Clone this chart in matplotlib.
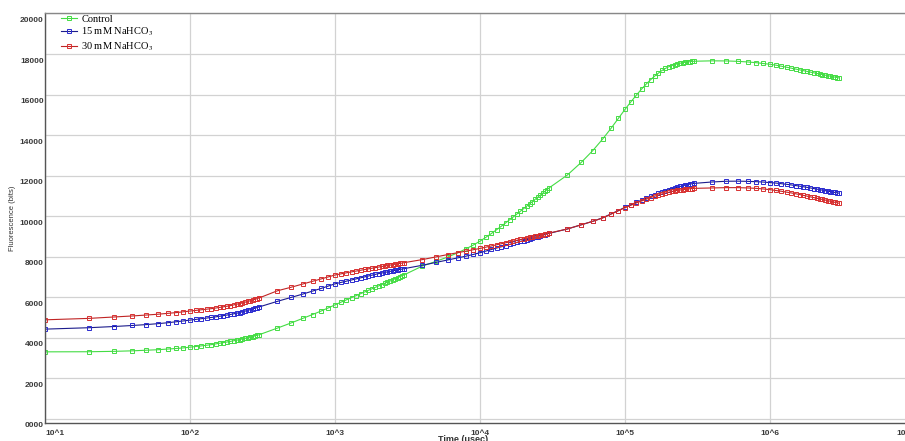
"""Chlorophyll fluorescence transient (OJIP) for control and NaHCO3 treatments."""
import matplotlib
matplotlib.use("Agg")
import matplotlib.pyplot as plt
import matplotlib.transforms as mtransforms

# sampling times of the fluorometer (usec)
TIME_US = [
    10, 20, 30, 40, 50, 60, 70, 80, 90, 100, 110, 120, 130, 140, 150,
    160, 170, 180, 190, 200, 210, 220, 230, 240, 250, 260, 270, 280, 290, 300,
    400, 500, 600, 700, 800, 900, 1000, 1100, 1200, 1300, 1400, 1500, 1600, 1700,
    1800, 1900, 2000, 2100, 2200, 2300, 2400, 2500, 2600, 2700, 2800, 2900, 3000,
    4000, 5000, 6000, 7000, 8000, 9000, 10000, 11000, 12000, 13000, 14000, 15000,
    16000, 17000, 18000, 19000, 20000, 21000, 22000, 23000, 24000, 25000, 26000,
    27000, 28000, 29000, 30000,
    40000, 50000, 60000, 70000, 80000, 90000, 100000, 110000, 120000, 130000,
    140000, 150000, 160000, 170000, 180000, 190000, 200000, 210000, 220000,
    230000, 240000, 250000, 260000, 270000, 280000, 290000, 300000,
    400000, 500000, 600000, 700000, 800000, 900000, 1000000, 1100000, 1200000,
    1300000, 1400000, 1500000, 1600000, 1700000, 1800000, 1900000, 2000000,
    2100000, 2200000, 2300000, 2400000, 2500000, 2600000, 2700000, 2800000,
    2900000, 3000000,
]

CONTROL = [
    3310, 3315, 3335, 3360, 3390, 3415, 3445, 3475, 3505, 3540, 3570, 3605, 3635, 3665, 3700,
    3730, 3760, 3795, 3825, 3855, 3885, 3915, 3945, 3975, 4005, 4035, 4065, 4095, 4125, 4155,
    4480, 4740, 4960, 5150, 5320, 5480, 5630, 5760, 5875, 5985, 6085, 6175, 6265, 6345,
    6420, 6495, 6565, 6630, 6690, 6750, 6810, 6865, 6915, 6965, 7015, 7065, 7110,
    7540, 7780, 7990, 8190, 8390, 8580, 8770, 8965, 9150, 9330, 9500, 9665,
    9820, 9970, 10110, 10245, 10375, 10500, 10615, 10725, 10835, 10935,
    11035, 11130, 11225, 11315, 11400,
    12030, 12660, 13240, 13800, 14330, 14830, 15270, 15650, 15980, 16270,
    16520, 16730, 16910, 17060, 17190, 17290, 17370, 17430, 17480,
    17520, 17550, 17575, 17595, 17610, 17625, 17635, 17645,
    17665, 17660, 17640, 17610, 17575, 17535, 17495, 17450, 17400,
    17350, 17305, 17260, 17220, 17180, 17145, 17110, 17075,
    17045, 17015, 16985, 16960, 16935, 16910, 16885, 16860,
    16840, 16820,
]

NAHCO3_15 = [
    4430, 4500, 4560, 4610, 4655, 4700, 4745, 4790, 4835, 4875, 4910, 4945, 4975, 5005, 5035,
    5065, 5095, 5125, 5155, 5185, 5215, 5250, 5285, 5320, 5355, 5390, 5425, 5460, 5495, 5530,
    5800, 5995, 6160, 6305, 6435, 6555, 6665, 6735, 6800, 6860, 6915, 6965, 7010, 7055,
    7095, 7135, 7170, 7200, 7230, 7260, 7285, 7310, 7335, 7355, 7375, 7395, 7415,
    7580, 7725, 7845, 7945, 8030, 8115, 8200, 8285, 8360, 8430, 8490, 8550,
    8610, 8660, 8710, 8760, 8800, 8845, 8885, 8925, 8960, 8995,
    9030, 9060, 9095, 9125, 9155,
    9370, 9580, 9750, 9920, 10110, 10280, 10440, 10570, 10690, 10790,
    10890, 10980, 11060, 11135, 11200, 11255, 11305, 11350, 11395,
    11435, 11470, 11505, 11535, 11560, 11585, 11605, 11620,
    11690, 11725, 11730, 11720, 11705, 11685, 11660, 11635, 11605,
    11575, 11545, 11515, 11485, 11455, 11425, 11395, 11365,
    11340, 11315, 11290, 11265, 11240, 11215, 11195, 11175,
    11155, 11135,
]

NAHCO3_30 = [
    4890, 4960, 5030, 5080, 5125, 5165, 5205, 5245, 5285, 5320, 5350, 5380, 5410, 5440, 5470,
    5500, 5530, 5560, 5590, 5625, 5655, 5690, 5725, 5760, 5795, 5830, 5865, 5900, 5935, 5970,
    6320, 6500, 6655, 6790, 6905, 7010, 7100, 7160, 7210, 7255, 7300, 7340, 7375, 7410,
    7440, 7470, 7495, 7520, 7545, 7570, 7590, 7610, 7635, 7655, 7670, 7690, 7710,
    7860, 8000, 8110, 8200, 8280, 8350, 8410, 8475, 8535, 8590, 8640, 8690,
    8735, 8775, 8815, 8855, 8890, 8925, 8955, 8985, 9015, 9045,
    9070, 9095, 9120, 9145, 9170,
    9370, 9580, 9750, 9910, 10100, 10265, 10420, 10545, 10655, 10750,
    10840, 10920, 10990, 11050, 11100, 11145, 11185, 11220, 11250,
    11275, 11295, 11315, 11330, 11345, 11355, 11365, 11375,
    11395, 11410, 11410, 11395, 11375, 11345, 11310, 11270, 11230,
    11190, 11150, 11110, 11070, 11030, 10995, 10960, 10925,
    10890, 10860, 10830, 10800, 10770, 10740, 10710, 10685,
    10660, 10640,
]

X_TICKS = [1e1, 1e2, 1e3, 1e4, 1e5, 1e6, 1e7]
X_LABELS = ["10^1", "10^2", "10^3", "10^4", "10^5", "10^6", "10^7"]
Y_TICKS = [0, 2000, 4000, 6000, 8000, 10000, 12000, 14000, 16000, 18000, 20000]
Y_LABELS = ["0000", "2000", "4000", "6000", "8000", "10000", "12000", "14000",
            "16000", "18000", "20000"]

SERIES = [
    ("Control", CONTROL, "#44dc44", "#44dc44"),
    ("15 mM NaHCO$_3$", NAHCO3_15, "#1c1c8c", "#2a2ad0"),
    ("30 mM NaHCO$_3$", NAHCO3_30, "#c02424", "#d83030"),
]

plt.rcParams["mathtext.fontset"] = "stix"

W, H = 905, 441
fig = plt.figure(figsize=(W / 100, H / 100), dpi=100)
fig.patch.set_facecolor("white")
# axes runs from 10^1 to 10^7; the right part is cut by the image edge
ax = fig.add_axes([45 / W, 18 / H, 870 / W, 409.5 / H])

for label, vals, lc, mc in SERIES:
    ax.plot(TIME_US, vals, color=lc, lw=0.8, marker="s", ms=2.8,
            mfc="none", mec=mc, mew=0.7, label=label)

ax.set_xscale("log")
ax.set_xlim(1e1, 1e7)
ax.set_ylim(-200, 20000)
ax.minorticks_off()

ax.set_xticks(X_TICKS, X_LABELS)
ax.set_yticks(Y_TICKS, Y_LABELS)
ax.tick_params(length=0, labelsize=6, labelcolor="#3a3a3a")
ax.tick_params(axis="x", pad=5)
ax.tick_params(axis="y", pad=1)
for t in ax.get_xticklabels() + ax.get_yticklabels():
    t.set_fontfamily("Liberation Sans")
    t.set_fontweight("bold")
xl = ax.get_xticklabels()
xl[0].set_ha("left")
xl[-1].set_ha("right")
# y labels sit a little under their grid lines
shift = mtransforms.ScaledTranslation(0, -6 / 100, fig.dpi_scale_trans)
for t in ax.get_yticklabels():
    t.set_transform(t.get_transform() + shift)

ax.grid(True, color="#d2d2d2", lw=0.9)
ax.set_axisbelow(True)
for s in ["left", "bottom", "top"]:
    ax.spines[s].set_color("#555555")
    ax.spines[s].set_linewidth(1.0)
ax.spines["top"].set_color("#888888")

fig.text(12 / W, 1 - 218 / H, "Fluorescence (bits)", rotation=90, ha="center", va="center",
         fontsize=5.5, family="Liberation Sans", color="#333333")
# x title sits under the tick labels and is cut by the bottom edge, as in the source
fig.text(463 / W, 1 - 435.5 / H, "Time (usec)", ha="center", va="top",
         fontsize=6.5, family="Liberation Sans", fontweight="bold", color="#333333")

ax.legend(loc="upper left", bbox_to_anchor=(0.018, 0.998), frameon=False,
          prop={"family": "Liberation Serif", "size": 7.5},
          handlelength=1.6, handletextpad=0.4, labelspacing=0.2,
          borderaxespad=0, borderpad=0)

fig.savefig("out.png", dpi=100)
